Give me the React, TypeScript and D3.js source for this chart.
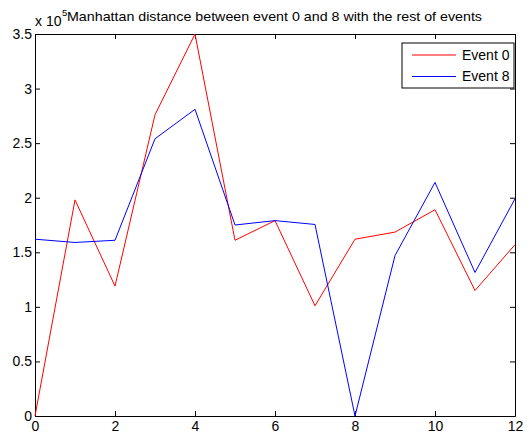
import React, { useEffect, useRef } from 'react';
import * as d3 from 'd3';

// distances, in units of 1e5
const events = [0, 1, 2, 3, 4, 5, 6, 7, 8, 9, 10, 11, 12];
const event0 = [0, 1.98, 1.19, 2.76, 3.5, 1.61, 1.79, 1.01, 1.62, 1.685, 1.89, 1.15, 1.57];
const event8 = [1.62, 1.59, 1.61, 2.54, 2.81, 1.75, 1.79, 1.755, 0, 1.47, 2.14, 1.315, 1.99];
const xTicks = [0, 2, 4, 6, 8, 10, 12];
const yTicks = [0, 0.5, 1, 1.5, 2, 2.5, 3, 3.5];
const seriesNames = ['Event 0', 'Event 8'];
const seriesColors = ['#ff0000', '#0000ff'];

const W = 529;
const H = 434;
const margin = { left: 35, right: 14, top: 34, bottom: 18 };
const font = '"Liberation Sans", Arial, Helvetica, sans-serif';
const fs = '14px';

export default function App() {
  const ref = useRef<SVGSVGElement>(null);

  useEffect(() => {
    const svg = d3.select(ref.current);
    svg.selectAll('*').remove();

    const x = d3.scaleLinear().domain([0, 12]).range([margin.left, W - margin.right]);
    const y = d3.scaleLinear().domain([0, 3.5]).range([H - margin.bottom, margin.top]);

    svg.append('rect').attr('width', W).attr('height', H).attr('fill', '#fff');

    const styleAxis = (g: any) => {
      g.selectAll('.domain').attr('stroke', '#000').attr('stroke-width', 1);
      g.selectAll('.tick line').attr('stroke', '#000');
      g.selectAll('text').attr('fill', '#000').style('font-family', font).style('font-size', fs);
    };

    // bottom + left with labels, top + right ticks only (box on)
    svg.append('g')
      .attr('transform', `translate(0,${y(0)})`)
      .call(d3.axisBottom(x).tickValues(xTicks).tickSizeInner(-5).tickSizeOuter(0).tickPadding(5).tickFormat(d3.format('d')))
      .call(styleAxis);
    svg.append('g')
      .attr('transform', `translate(0,${y(3.5)})`)
      .call(d3.axisTop(x).tickValues(xTicks).tickSizeInner(-5).tickSizeOuter(0).tickFormat(() => ''))
      .call(styleAxis);
    svg.append('g')
      .attr('transform', `translate(${x(0)},0)`)
      .call(d3.axisLeft(y).tickValues(yTicks).tickSizeInner(-5).tickSizeOuter(0).tickPadding(3).tickFormat((d: any) => String(d)))
      .call(styleAxis);
    svg.append('g')
      .attr('transform', `translate(${x(12)},0)`)
      .call(d3.axisRight(y).tickValues(yTicks).tickSizeInner(-5).tickSizeOuter(0).tickFormat(() => ''))
      .call(styleAxis);

    const line = d3.line<number>()
      .x((d, i) => x(events[i]))
      .y(d => y(d));

    [event0, event8].forEach((s, i) => {
      svg.append('path')
        .datum(s)
        .attr('d', line)
        .attr('fill', 'none')
        .attr('stroke', seriesColors[i])
        .attr('stroke-width', 1);
    });

    // title and exponent
    svg.append('text')
      .attr('x', 67)
      .attr('y', 21)
      .attr('textLength', 415)
      .attr('lengthAdjust', 'spacingAndGlyphs')
      .style('font-family', font)
      .style('font-size', '13.5px')
      .text('Manhattan distance between event 0 and 8 with the rest of events');
    svg.append('text')
      .attr('x', 35)
      .attr('y', 26)
      .style('font-family', font)
      .style('font-size', fs)
      .text('x 10');
    svg.append('text')
      .attr('x', 62)
      .attr('y', 16)
      .style('font-family', font)
      .style('font-size', '9.5px')
      .text('5');

    // legend
    const lg = svg.append('g').attr('transform', 'translate(402,43)');
    lg.append('rect').attr('width', 112).attr('height', 45)
      .attr('fill', '#fff').attr('stroke', '#000').attr('stroke-width', 1);
    seriesNames.forEach((name, i) => {
      const cy = 12 + i * 21.5;
      lg.append('line').attr('x1', 10).attr('x2', 54).attr('y1', cy).attr('y2', cy)
        .attr('stroke', seriesColors[i]).attr('stroke-width', 1);
      lg.append('text').attr('x', 60).attr('y', cy).attr('dy', '0.35em')
        .style('font-family', font).style('font-size', fs).text(name);
    });
  }, []);

  return (
    <svg ref={ref} width={W} height={H}
      style={{ position: 'absolute', left: 0, top: 0, display: 'block' }} />
  );
}
